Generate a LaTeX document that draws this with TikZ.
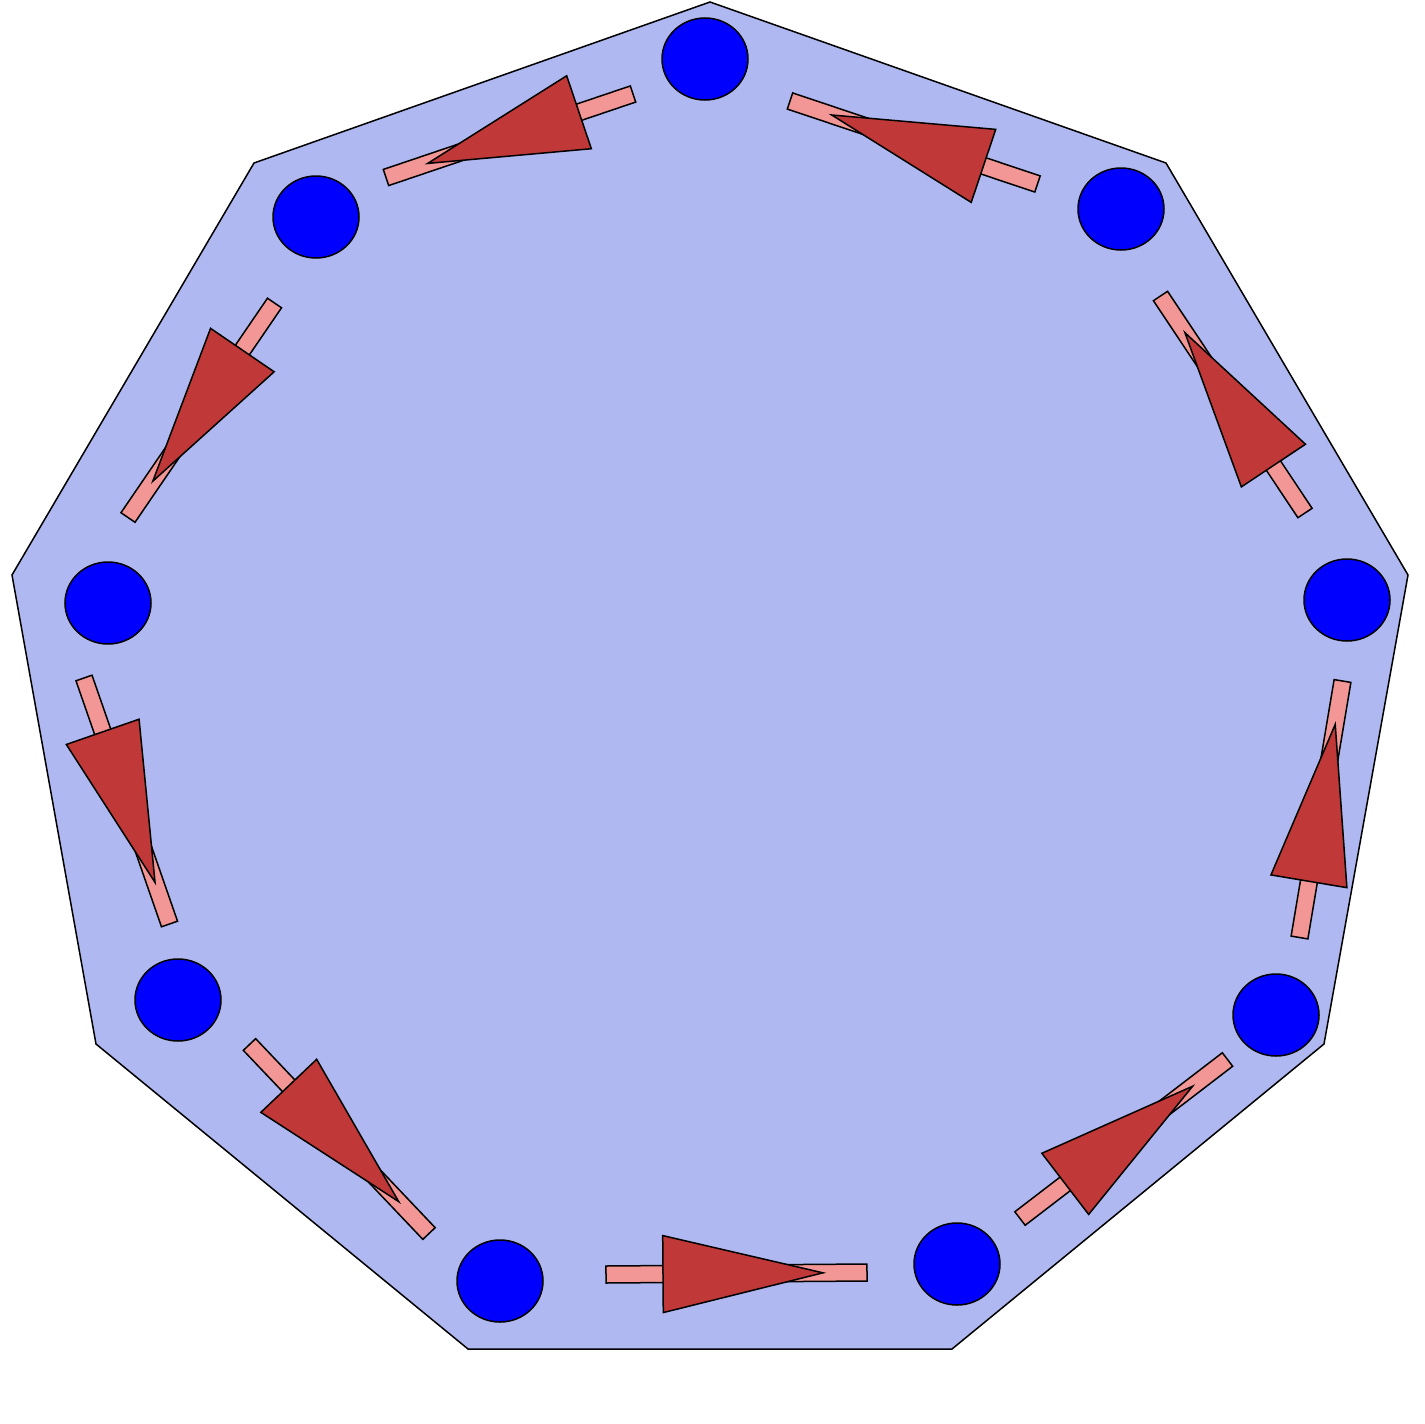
\documentclass[tikz,border=0pt]{standalone}
\usetikzlibrary{calc,shapes.geometric}
\definecolor{plate}{RGB}{175,184,240}
\definecolor{barpink}{RGB}{242,150,150}
\definecolor{tipred}{RGB}{192,56,56}
\definecolor{dotblue}{RGB}{0,0,255}
\tikzset{
  plateshape/.style={draw=black,fill=plate,line width=1.5pt,line join=miter},
  dot/.style={ellipse,draw=black,fill=dotblue,line width=1.5pt,minimum width=86pt,minimum height=82pt,inner sep=0pt},
  barshape/.style={draw=black,fill=barpink,line width=1.5pt,line join=miter},
  tipshape/.style={draw=black,fill=tipred,line width=1.5pt,line join=miter}
}
\begin{document}
\begin{tikzpicture}[x=1pt,y=-1pt]
\useasboundingbox (0,0) rectangle (1425,1424);
\draw[plateshape] (710,2) -- (1166,163) -- (1408,575) -- (1324,1044) -- (952,1349) -- (468,1349) -- (96,1044) -- (12,575) -- (254,163) -- cycle;
\node[dot] (c1) at (705,59) {};
\node[dot] (c2) at (1121,209) {};
\node[dot] (c3) at (1347,600) {};
\node[dot] (c4) at (1276,1015) {};
\node[dot] (c5) at (957,1264) {};
\node[dot] (c6) at (500,1281) {};
\node[dot] (c7) at (178,1000) {};
\node[dot] (c8) at (108,603) {};
\node[dot] (c9) at (316,217) {};
\foreach \i/\ax/\ay/\bx/\by in {
  1/633/94/386/177.5,
  2/1037.5/184/790/101,
  3/1305/513/1160.5/296,
  4/1299.5/937.5/1342.5/681,
  5/1020/1218.5/1227.5/1059.5,
  6/606/1274.5/867/1272.5,
  7/249.5/1044.5/429/1233.5,
  8/84/678/169.5/924,
  9/274.5/303/128/517.5}{
  \coordinate (a\i) at (\ax,\ay);
  \coordinate (b\i) at (\bx,\by);
  \draw[barshape] ($(a\i)!8.5pt!90:(b\i)$) -- ($(a\i)!8.5pt!-90:(b\i)$) -- ($(b\i)!8.5pt!90:(a\i)$) -- ($(b\i)!8.5pt!-90:(a\i)$) -- cycle;
  \coordinate (t\i) at ($(b\i)!44pt!(a\i)$);
  \coordinate (m\i) at ($(a\i)!57pt!(b\i)$);
  \draw[tipshape] (t\i) -- ($(m\i)!38.5pt!90:(t\i)$) -- ($(m\i)!38.5pt!-90:(t\i)$) -- cycle;
}
\end{tikzpicture}
\end{document}
